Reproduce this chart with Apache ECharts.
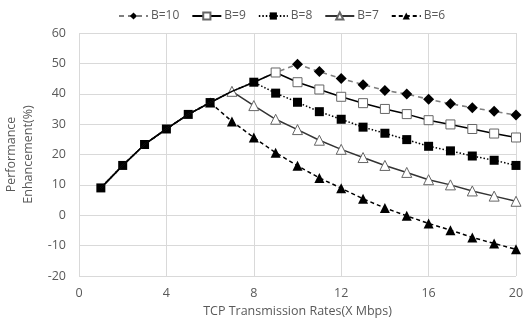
<!DOCTYPE html>
<html><head><meta charset="utf-8">
<script src="https://cdn.jsdelivr.net/npm/echarts@6/dist/echarts.min.js"></script>
<style>html,body{margin:0;padding:0;background:#fff}#c{width:529px;height:325px}</style>
</head><body><div id="c"></div>
<script>
var xValues = [1,2,3,4,5,6,7,8,9,10,11,12,13,14,15,16,17,18,19,20];
var xTicks = [0,4,8,12,16,20];
var yTicks = [-20,-10,0,10,20,30,40,50,60];
var seriesNames = ['B=10','B=9','B=8','B=7','B=6'];
var peakX = [10, 9, 8, 7, 6];
var b10 = [9,16.4,23.3,28.4,33.2,37.1,40.8,43.8,47.0,49.7,47.3,45.0,43.0,41.1,39.9,38.2,36.7,35.4,34.2,33.0];
var b9  = [9,16.4,23.3,28.4,33.2,37.1,40.8,43.8,47.0,43.8,41.4,39.0,36.9,35.0,33.3,31.3,29.9,28.4,26.9,25.6];
var b8  = [9,16.4,23.3,28.4,33.2,37.1,40.8,43.8,40.2,37.2,34.1,31.6,29.0,27.0,24.9,22.7,21.2,19.5,18.1,16.4];
var b7  = [9,16.4,23.3,28.4,33.2,37.1,40.8,36.1,31.6,28.2,24.7,21.7,19.0,16.4,14.1,11.7,10.0,8.0,6.3,4.6];
var b6  = [9,16.4,23.3,28.4,33.2,37.1,30.9,25.6,20.6,16.3,12.3,8.9,5.4,2.4,-0.2,-2.7,-4.9,-7.3,-9.3,-11.2];

var FONT = '"Open Sans", sans-serif';
var TXT = '#595959';

function pts(vals, peak) {
  return vals.map(function (v, i) {
    var x = xValues[i];
    var d = { value: [x, v] };
    if (x < peak) d.symbol = 'none';
    return d;
  });
}
// B=8 markers are the ones visible on the shared rising part (except x=7, where B=7's marker sits)
function ptsB8(vals) {
  return vals.map(function (v, i) {
    var x = xValues[i];
    var d = { value: [x, v] };
    if (x === 7) d.symbol = 'none';
    return d;
  });
}

var styles = {
  'B=10': { line: { color: '#7f7f7f', width: 1.6, type: [5, 4] }, symbol: 'diamond', size: 11, item: { color: '#000', borderColor: '#000', borderWidth: 0 }, z: 2 },
  'B=9':  { line: { color: '#000', width: 1.5, type: 'solid' }, symbol: 'rect', size: 9, item: { color: '#fff', borderColor: '#666', borderWidth: 1 }, z: 6 },
  'B=8':  { line: { color: '#000', width: 1.5, type: [1.5, 2] }, symbol: 'rect', size: 9, item: { color: '#000', borderColor: '#000', borderWidth: 0 }, z: 4 },
  'B=7':  { line: { color: '#333', width: 1.5, type: 'solid' }, symbol: 'triangle', size: 10, item: { color: '#fff', borderColor: '#666', borderWidth: 1 }, z: 5 },
  'B=6':  { line: { color: '#000', width: 1.5, type: [4, 3] }, symbol: 'triangle', size: 10, item: { color: '#000', borderColor: '#000', borderWidth: 0 }, z: 3 }
};
var allVals = [b10, b9, b8, b7, b6];

var series = seriesNames.map(function (name, k) {
  var s = styles[name];
  var data = name === 'B=8' ? ptsB8(allVals[k]) : pts(allVals[k], peakX[k]);
  return {
    name: name, type: 'line', data: data, z: s.z,
    symbol: s.symbol, symbolSize: s.size, showAllSymbol: true,
    lineStyle: s.line, itemStyle: s.item, emphasis: { disabled: true },
    animation: false
  };
});

var chart = echarts.init(document.getElementById('c'), null, { renderer: 'canvas' });
chart.setOption({
  backgroundColor: '#fff',
  textStyle: { fontFamily: FONT },
  legend: {
    data: seriesNames, top: 5, left: 113, itemWidth: 29, itemHeight: 9, itemGap: 12,
    textStyle: { fontFamily: FONT, fontSize: 12, color: TXT, padding: [0, 0, 0, -2] }
  },
  grid: { left: 79, right: 13, top: 33, bottom: 49, containLabel: false, outerBoundsMode: 'none' },
  xAxis: {
    type: 'value', min: xTicks[0], max: xTicks[xTicks.length - 1], interval: xTicks[1] - xTicks[0],
    name: 'TCP Transmission Rates(X Mbps)', nameLocation: 'middle', nameGap: 29,
    nameTextStyle: { fontFamily: FONT, fontSize: 12.5, color: TXT },
    axisLine: { show: false }, axisTick: { show: false },
    axisLabel: { fontFamily: FONT, fontSize: 12.5, color: TXT, margin: 11 },
    splitLine: { show: true, lineStyle: { color: '#d9d9d9', width: 1 } }
  },
  yAxis: {
    type: 'value', min: yTicks[0], max: yTicks[yTicks.length - 1], interval: yTicks[1] - yTicks[0],
    name: 'Performance\nEnhancement(%)', nameLocation: 'middle', nameGap: 37, nameRotate: 90,
    nameTextStyle: { fontFamily: FONT, fontSize: 12.5, color: TXT, lineHeight: 17 },
    axisLine: { show: false }, axisTick: { show: false },
    axisLabel: { fontFamily: FONT, fontSize: 12.5, color: TXT, margin: 13 },
    splitLine: { show: true, lineStyle: { color: '#d9d9d9', width: 1 } }
  },
  series: series
});
</script></body></html>
